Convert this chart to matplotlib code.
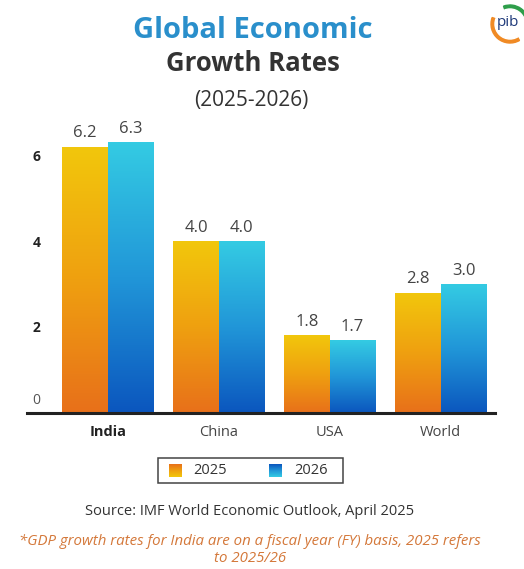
import numpy as np
import matplotlib.pyplot as plt
from matplotlib.colors import LinearSegmentedColormap
from matplotlib.patches import Rectangle, Circle, Wedge
from matplotlib import transforms

countries = ['India', 'China', 'USA', 'World']
growth_2025 = [6.2, 4.0, 1.8, 2.8]
growth_2026 = [6.3, 4.0, 1.7, 3.0]
series_names = ['2025', '2026']
yticks = [0, 2, 4, 6]

plt.rcParams['font.family'] = ['Open Sans', 'DejaVu Sans']

cm_2025 = LinearSegmentedColormap.from_list('c25', ['#E8701A', '#EFA010', '#F2C70C'])
cm_2026 = LinearSegmentedColormap.from_list('c26', ['#0B56BE', '#2196D8', '#34CBE3'])

fig = plt.figure(figsize=(5.24, 5.69), dpi=100)
ax = fig.add_axes([0.0515, 0.2747, 0.8935, 0.528])

x = np.arange(len(countries))
w = 0.41
bars1 = ax.bar(x - w/2, growth_2025, w, color='none', edgecolor='none')
bars2 = ax.bar(x + w/2, growth_2026, w, color='none', edgecolor='none')

grad = np.linspace(0, 1, 256).reshape(-1, 1)
for bars, cmap in [(bars1, cm_2025), (bars2, cm_2026)]:
    for b in bars:
        x0, y0 = b.get_x(), b.get_y()
        im = ax.imshow(grad, cmap=cmap, origin='lower', aspect='auto',
                       extent=[x0, x0 + b.get_width(), y0, y0 + b.get_height()],
                       zorder=2)
        im.set_clip_path(b)
    for b in bars:
        ax.text(b.get_x() + b.get_width()/2, b.get_height() + 0.12,
                f'{b.get_height():.1f}', ha='center', va='bottom',
                fontsize=12, color='#444444')

ax.set_xlim(-0.73, 3.49)
ax.set_ylim(0, 7)

for s in ['top', 'right', 'left']:
    ax.spines[s].set_visible(False)
ax.spines['bottom'].set_linewidth(2.2)
ax.spines['bottom'].set_color('#222222')

ax.set_xticks(x)
ax.set_xticklabels(countries, fontsize=10.5, color='#444444')
ax.get_xticklabels()[0].set_fontweight('bold')
ax.get_xticklabels()[0].set_color('#222222')
ax.tick_params(axis='x', length=0, pad=9)

ax.set_yticks(yticks)
ax.set_yticklabels([str(t) for t in yticks], fontsize=10, color='#222222',
                   fontweight='bold')
ax.tick_params(axis='y', length=0, pad=-4)
for lab in ax.get_yticklabels():
    lab.set_ha('left')
zero = ax.get_yticklabels()[0]
zero.set_fontweight('normal')
zero.set_color('#555555')
zero.set_transform(zero.get_transform() + transforms.ScaledTranslation(0, 10/72, fig.dpi_scale_trans))

# titles
fig.text(0.482, 0.947, 'Global Economic', ha='center', va='center',
         fontsize=21, fontweight='bold', color='#2A8FCB')
fig.text(0.482, 0.889, 'Growth Rates', ha='center', va='center',
         fontsize=18.5, fontweight='bold', color='#333333')
fig.text(0.479, 0.824, '(2025-2026)', ha='center', va='center',
         fontsize=15, color='#333333')

# legend
lg_ax = fig.add_axes([0, 0, 1, 1], facecolor='none')
lg_ax.set_xlim(0, 524)
lg_ax.set_ylim(569, 0)
lg_ax.axis('off')
lg_ax.add_patch(Rectangle((158, 458), 185, 25, fill=False, edgecolor='#444444', lw=1.1))
sq = np.linspace(0, 1, 64).reshape(-1, 1)
for (sx, cmap, name, tx) in [(169, cm_2025, series_names[0], 193),
                              (269, cm_2026, series_names[1], 294)]:
    lg_ax.imshow(sq, cmap=cmap, extent=[sx, sx + 13, 477, 464], aspect='auto', origin='upper')
    lg_ax.text(tx, 470.5, name, ha='left', va='center', fontsize=10.5, color='#333333')
lg_ax.set_xlim(0, 524)
lg_ax.set_ylim(569, 0)

fig.text(0.477, 0.101, 'Source: IMF World Economic Outlook, April 2025', ha='center',
         va='center', fontsize=10.5, color='#333333')
fig.text(0.477, 0.034, '*GDP growth rates for India are on a fiscal year (FY) basis, 2025 refers\nto 2025/26',
         ha='center', va='center', fontsize=10.8, color='#D4783A', style='italic',
         linespacing=1.2)

# logo
lg_ax.add_patch(Wedge((510, 24), 19, 60, 200, color='#F08A24'))
lg_ax.add_patch(Wedge((510, 24), 19, 250, 360, color='#2E9E4A'))
lg_ax.add_patch(Circle((510, 24), 15, color='white'))
lg_ax.text(508, 22, 'pib', ha='center', va='center', fontsize=11, color='#1F3A7A')

fig.savefig('out.png', dpi=100)
